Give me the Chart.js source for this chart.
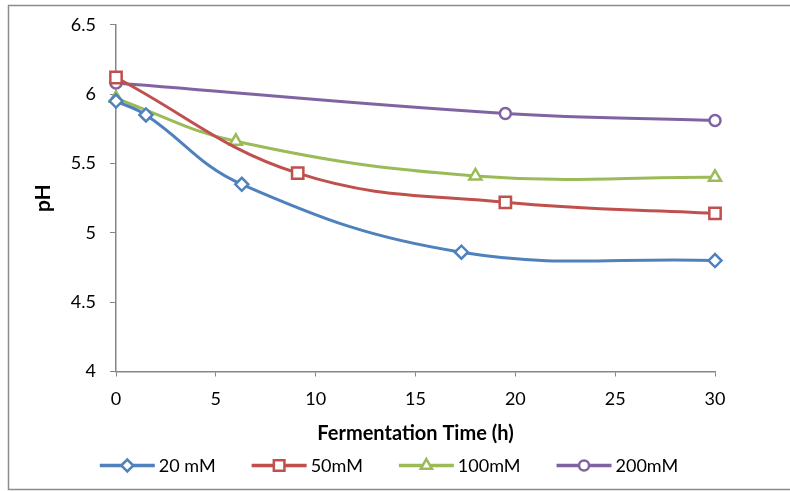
<!DOCTYPE html>
<html>
<head>
<meta charset="utf-8">
<script src="https://cdn.jsdelivr.net/npm/chart.js@4/dist/chart.umd.min.js"></script>
<style>
  body { margin: 0; background: #fff; }
  canvas { display: block; }
</style>
</head>
<body>
<canvas id="phChart" width="790" height="491"></canvas>
<script>
// pH values
const hours20 = [0, 1.5, 6.3, 17.3, 30];
const ph20 = [5.95, 5.85, 5.35, 4.86, 4.80];
const hours50 = [0, 9.1, 19.5, 30];
const ph50 = [6.12, 5.43, 5.22, 5.14];
const hours100 = [0, 6, 18, 30];
const ph100 = [5.97, 5.66, 5.41, 5.40];
const hours200 = [0, 19.5, 30];
const ph200 = [6.08, 5.86, 5.81];

const seriesNames = ["20 mM", "50mM", "100mM", "200mM"];
const xTicks = [0, 5, 10, 15, 20, 25, 30];
const yTicks = [4, 4.5, 5, 5.5, 6, 6.5];

const fontFamily = "Lato, 'Open Sans', sans-serif";
const axisColor = "#868686";

function toPoints(xs, ys) {
  return xs.map((x, i) => ({ x: x, y: ys[i] }));
}

function makeSeries(label, xs, ys, color, style, radius) {
  return {
    label: label,
    data: toPoints(xs, ys),
    borderColor: color,
    backgroundColor: "#fff",
    borderWidth: 3,
    tension: 0.4,
    pointStyle: style,
    pointRadius: radius,
    pointBorderWidth: 2.5,
    pointBorderColor: color,
    pointBackgroundColor: "#fff",
    clip: false,
  };
}

// cadre gris autour du graphique
const framePlugin = {
  id: "frame",
  beforeDraw(chart) {
    const ctx = chart.ctx;
    ctx.save();
    ctx.fillStyle = "#fff";
    ctx.fillRect(0, 0, chart.width, chart.height);
    ctx.strokeStyle = "#8c8c8c";
    ctx.lineWidth = 1.5;
    ctx.beginPath();
    ctx.moveTo(chart.width, 5.5);
    ctx.lineTo(8.5, 5.5);
    ctx.lineTo(8.5, 489.5);
    ctx.lineTo(chart.width, 489.5);
    ctx.stroke();
    ctx.restore();
  },
};

// légende avec trait + marqueur, comme Excel
const lineLegendPlugin = {
  id: "lineLegend",
  afterDraw(chart) {
    const ctx = chart.ctx;
    const lineLen = 55, textGap = 4, itemGap = 36, y = 465.5;
    ctx.save();
    ctx.font = "18px " + fontFamily;
    ctx.textBaseline = "middle";
    const sets = chart.data.datasets;
    const widths = sets.map((ds) => lineLen + textGap + ctx.measureText(ds.label).width);
    const total = widths.reduce((a, b) => a + b, 0) + itemGap * (sets.length - 1);
    let x = 389 - total / 2;
    sets.forEach((ds, i) => {
      ctx.strokeStyle = ds.borderColor;
      ctx.lineWidth = 3.5;
      ctx.beginPath();
      ctx.moveTo(x, y);
      ctx.lineTo(x + lineLen, y);
      ctx.stroke();
      ctx.fillStyle = "#fff";
      ctx.lineWidth = 2.5;
      Chart.helpers.drawPoint(ctx, { pointStyle: ds.pointStyle, radius: ds.pointRadius - 0.5, rotation: 0, borderWidth: 2.5 }, x + lineLen / 2, y);
      ctx.fillStyle = "#000";
      ctx.fillText(ds.label, x + lineLen + textGap, y + 1);
      x += widths[i] + itemGap;
    });
    ctx.restore();
  },
};

const ctx = document.getElementById("phChart").getContext("2d");
const phChart = new Chart(ctx, {
  type: "line",
  data: {
    datasets: [
      makeSeries(seriesNames[0], hours20, ph20, "#4F81BD", "rectRot", 6.5),
      makeSeries(seriesNames[1], hours50, ph50, "#C0504D", "rect", 8),
      makeSeries(seriesNames[2], hours100, ph100, "#9BBB59", "triangle", 7),
      makeSeries(seriesNames[3], hours200, ph200, "#8064A2", "circle", 5.5),
    ],
  },
  options: {
    responsive: false,
    animation: false,
    devicePixelRatio: 1,
    layout: { padding: { top: 22, right: 75, bottom: 0, left: 0 } },
    plugins: {
      legend: { display: false },
      tooltip: { enabled: false },
    },
    scales: {
      x: {
        type: "linear",
        min: 0,
        max: 30,
        afterBuildTicks: (scale) => { scale.ticks = xTicks.map((v) => ({ value: v })); },
        afterFit: (scale) => { scale.height = 119.5; },
        grid: { drawOnChartArea: false, drawTicks: true, tickLength: 5, color: axisColor },
        border: { color: axisColor, width: 1.5 },
        ticks: { color: "#000", padding: 12, font: { family: fontFamily, size: 18 }, callback: (v) => String(v) },
        title: {
          display: true,
          text: "Fermentation Time (h)",
          color: "#000",
          font: { family: fontFamily, size: 20, weight: "bold" },
          padding: { top: 0, bottom: 45 },
        },
      },
      y: {
        min: 4,
        max: 6.5,
        afterBuildTicks: (scale) => { scale.ticks = yTicks.map((v) => ({ value: v })); },
        afterFit: (scale) => { scale.width = 116; },
        grid: { drawOnChartArea: false, drawTicks: true, tickLength: 6, color: axisColor },
        border: { color: axisColor, width: 1.5 },
        ticks: { color: "#000", padding: 14, font: { family: fontFamily, size: 18 }, callback: (v) => String(v) },
        title: {
          display: true,
          text: "pH",
          color: "#000",
          font: { family: fontFamily, size: 21, weight: "bold" },
          padding: { top: 31, bottom: 0 },
        },
      },
    },
  },
  plugins: [framePlugin, lineLegendPlugin],
});
</script>
</body>
</html>
